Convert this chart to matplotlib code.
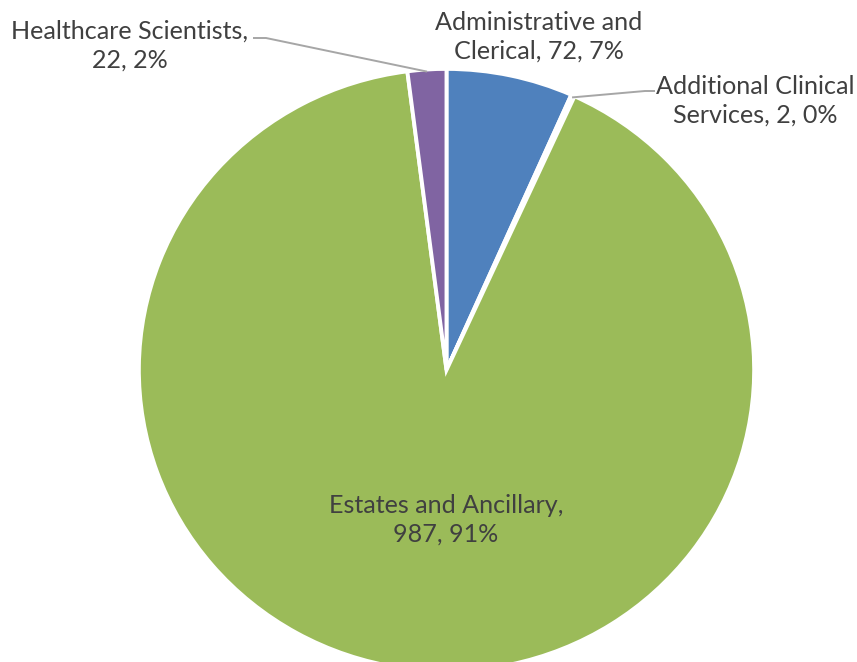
import matplotlib
matplotlib.use("Agg")
import matplotlib.pyplot as plt
import numpy as np

# Staff group headcounts
categories = ["Administrative and Clerical", "Additional Clinical Services",
              "Estates and Ancillary", "Healthcare Scientists"]
values = [72, 2, 987, 22]
colors = ["#4F81BD", "#C0504D", "#9BBB59", "#8064A2"]

W, H = 857, 662
CX, CY = 446.5, 370.0   # pie centre in pixels
RX, RY = 305.5, 299.0   # pie radii in pixels


def to_data(px, py):
    return (px - CX) / RX, (CY - py) / RY


fig = plt.figure(figsize=(W / 100, H / 100), dpi=100)
ax = fig.add_axes([0, 0, 1, 1])
ax.axis("off")

wedges, _ = ax.pie(values, colors=colors, startangle=90, counterclock=False,
                   radius=1.007,
                   wedgeprops=dict(edgecolor="white", linewidth=2.8))

ax.set_aspect("auto")
ax.set_xlim(to_data(0, 0)[0], to_data(W, 0)[0])
ax.set_ylim(to_data(0, H)[1], to_data(0, 0)[1])

total = sum(values)
label_text = [
    "Administrative and\nClerical, {}, {}%",
    "Additional Clinical\nServices, {}, {}%",
    "Estates and Ancillary,\n{}, {}%",
    "Healthcare Scientists,\n{}, {}%",
]
label_pos_px = [(539, 37), (755, 101), (446, 520), (130, 46)]
# leader lines: elbow points in pixels, drawn from label to wedge
leaders = {1: [(655, 91), (645, 91)], 3: [(253, 38), (266, 38)]}

font = dict(family=["Lato", "DejaVu Sans"], fontsize=18.1, color="#404040")

for i, (w, v) in enumerate(zip(wedges, values)):
    txt = label_text[i].format(v, round(100 * v / total))
    x, y = to_data(*label_pos_px[i])
    ax.text(x, y, txt, ha="center", va="center", linespacing=1.32, **font)
    if i in leaders:
        mid = np.deg2rad((w.theta1 + w.theta2) / 2)
        pts = [to_data(*p) for p in leaders[i]] + [(np.cos(mid), np.sin(mid))]
        xs, ys = zip(*pts)
        ax.plot(xs, ys, color="#A6A6A6", lw=1.4, solid_capstyle="butt")

fig.savefig("out.png", dpi=100, facecolor="white")
